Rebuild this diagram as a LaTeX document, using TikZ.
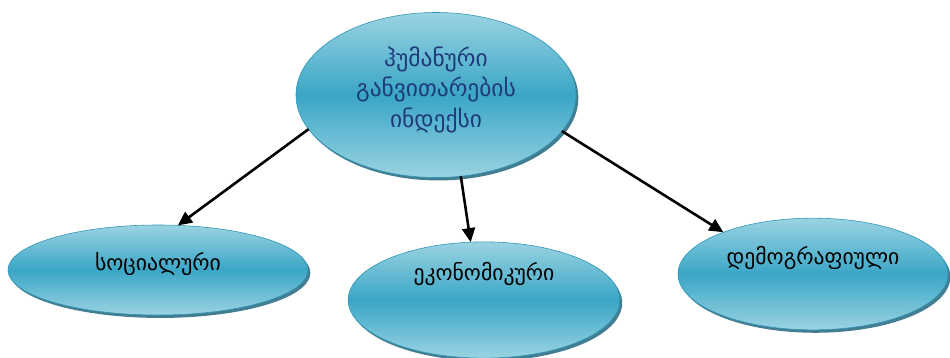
\documentclass[tikz,border=0pt]{standalone}
\usepackage{fontspec}
\newfontfamily\geofont[Script=Georgian]{DejaVu Sans}
\usetikzlibrary{shapes.geometric, shadows, arrows.meta}
\definecolor{cellLight}{HTML}{9AD3E2}
\definecolor{cellMid}{HTML}{3AA6C6}
\definecolor{cellEdge}{HTML}{2E95B5}
\definecolor{cellShadow}{HTML}{2E6F86}
\definecolor{titleBlue}{HTML}{1F3A7A}

\begin{document}
\begin{tikzpicture}[x=0.03cm, y=-0.03cm,
    cell/.style={ellipse, draw=cellEdge, line width=0.5pt, outer sep=0pt,
        top color=cellLight, bottom color=cellLight, middle color=cellMid,
        drop shadow={shadow xshift=2pt, shadow yshift=-2.5pt, fill=cellShadow, opacity=0.9},
        font=\geofont\fontsize{18.5}{22}\selectfont, align=center},
    link/.style={-{Triangle[length=12pt, width=11pt]}, line width=2.2pt}]
    \useasboundingbox (0,0) rectangle (950,357);

    % Draw nodes
    \node[cell, minimum width=8.4cm, minimum height=4.95cm, text=titleBlue,
        font=\geofont\fontsize{20}{26}\selectfont] (hdi) at (436,95)
        {ჰუმანური\\განვითარების\\ინდექსი\\[-12pt]};
    \node[cell, minimum width=9cm, minimum height=2.7cm] (soc) at (158,270) {სოციალური\\[-8pt]};
    \node[cell, minimum width=8.15cm, minimum height=3.35cm] (eco) at (484,300) {ეკონომიკური\\[26pt]};
    \node[cell, minimum width=8.1cm, minimum height=3.35cm] (dem) at (813,274) {დემოგრაფიული\\[10pt]};

    % Draw connections
    \draw[link] (hdi.195) -- (soc.66);
    \draw[link] (hdi.287) -- (eco.103);
    \draw[link] (hdi.344) -- (dem.155);
\end{tikzpicture}
\end{document}
